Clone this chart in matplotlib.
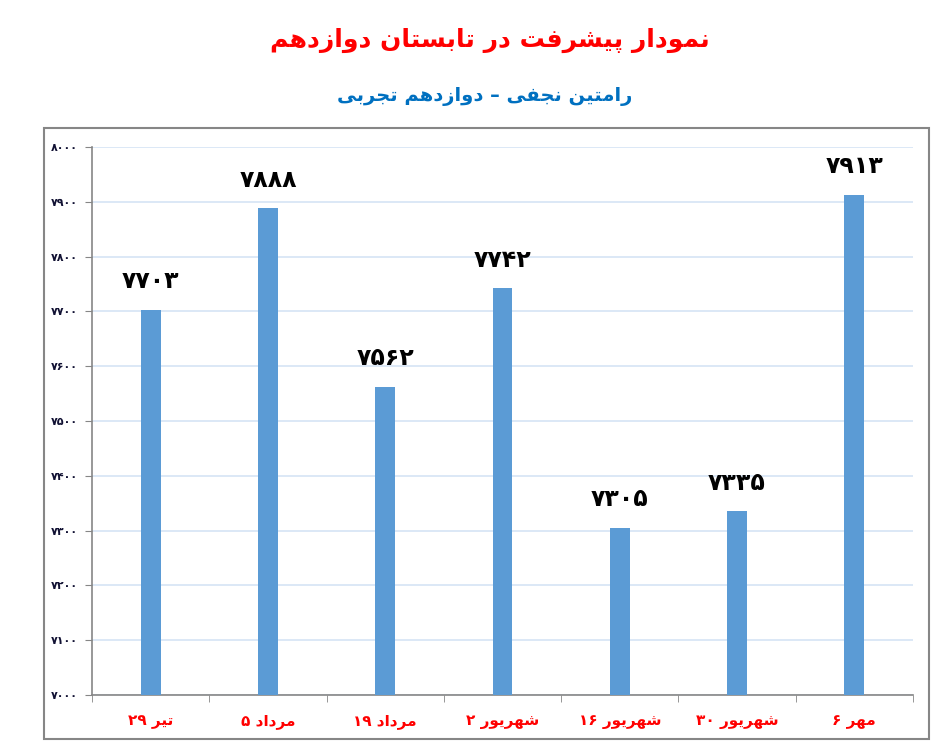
import matplotlib.pyplot as plt
from matplotlib.patches import Rectangle
from matplotlib.ticker import FuncFormatter, MultipleLocator

# data
days = [29, 5, 19, 2, 16, 30, 6]
months = ["تیر", "مرداد", "مرداد", "شهریور", "شهریور", "شهریور", "مهر"]
scores = [7703, 7888, 7562, 7742, 7305, 7335, 7913]

title = "نمودار پیشرفت در تابستان دوازدهم"
subtitle = "رامتین نجفی – دوازدهم تجربی"

# contextual forms: isolated, final, initial, medial
FORMS = {
    "ا": (0xFE8D, 0xFE8E), "آ": (0xFE81, 0xFE82),
    "د": (0xFEA9, 0xFEAA), "ذ": (0xFEAB, 0xFEAC), "ر": (0xFEAD, 0xFEAE),
    "ز": (0xFEAF, 0xFEB0), "ژ": (0xFB8A, 0xFB8B), "و": (0xFEED, 0xFEEE),
    "ب": (0xFE8F, 0xFE90, 0xFE91, 0xFE92), "پ": (0xFB56, 0xFB57, 0xFB58, 0xFB59),
    "ت": (0xFE95, 0xFE96, 0xFE97, 0xFE98), "ث": (0xFE99, 0xFE9A, 0xFE9B, 0xFE9C),
    "ج": (0xFE9D, 0xFE9E, 0xFE9F, 0xFEA0), "چ": (0xFB7A, 0xFB7B, 0xFB7C, 0xFB7D),
    "ح": (0xFEA1, 0xFEA2, 0xFEA3, 0xFEA4), "خ": (0xFEA5, 0xFEA6, 0xFEA7, 0xFEA8),
    "س": (0xFEB1, 0xFEB2, 0xFEB3, 0xFEB4), "ش": (0xFEB5, 0xFEB6, 0xFEB7, 0xFEB8),
    "ص": (0xFEB9, 0xFEBA, 0xFEBB, 0xFEBC), "ض": (0xFEBD, 0xFEBE, 0xFEBF, 0xFEC0),
    "ط": (0xFEC1, 0xFEC2, 0xFEC3, 0xFEC4), "ظ": (0xFEC5, 0xFEC6, 0xFEC7, 0xFEC8),
    "ع": (0xFEC9, 0xFECA, 0xFECB, 0xFECC), "غ": (0xFECD, 0xFECE, 0xFECF, 0xFED0),
    "ف": (0xFED1, 0xFED2, 0xFED3, 0xFED4), "ق": (0xFED5, 0xFED6, 0xFED7, 0xFED8),
    "ک": (0xFB8E, 0xFB8F, 0xFB90, 0xFB91), "گ": (0xFB92, 0xFB93, 0xFB94, 0xFB95),
    "ل": (0xFEDD, 0xFEDE, 0xFEDF, 0xFEE0), "م": (0xFEE1, 0xFEE2, 0xFEE3, 0xFEE4),
    "ن": (0xFEE5, 0xFEE6, 0xFEE7, 0xFEE8), "ه": (0xFEE9, 0xFEEA, 0xFEEB, 0xFEEC),
    "ی": (0xFBFC, 0xFBFD, 0xFBFE, 0xFBFF),
}


def rtl(text):
    # join letters into their contextual forms, then lay out right to left
    out = []
    for i, ch in enumerate(text):
        f = FORMS.get(ch)
        if f is None:
            out.append(ch)
            continue
        prev = i > 0 and len(FORMS.get(text[i - 1], ())) == 4
        nxt = len(f) == 4 and i + 1 < len(text) and text[i + 1] in FORMS
        if prev and nxt:
            k = 3
        elif prev:
            k = 1
        elif nxt:
            k = 2
        else:
            k = 0
        out.append(chr(f[k]))
    return "".join(out[::-1])


def fa_num(n):
    return "".join(chr(0x06F0 + int(c)) for c in str(int(n)))


FONT = ["DejaVu Sans"]
labels = [fa_num(d) + " " + rtl(m) for d, m in zip(days, months)]
x = list(range(len(scores)))

fig = plt.figure(figsize=(9.41, 7.55), dpi=100)
ax = fig.add_axes([92 / 941, 1 - 695 / 755, (913 - 92) / 941, (695 - 147) / 755])

ax.bar(x, scores, width=0.17, color="#5b9bd5", zorder=3)
for xi, v in zip(x, scores):
    ax.annotate(fa_num(v), (xi, v), xytext=(0, 12), textcoords="offset points",
                ha="center", va="bottom", fontsize=17, fontweight="bold",
                family=FONT, color="black")

ax.set_xlim(-0.5, len(scores) - 0.5)
ax.set_ylim(7000, 8000)
ax.yaxis.set_major_locator(MultipleLocator(100))
ax.yaxis.set_major_formatter(FuncFormatter(lambda v, p: fa_num(v)))
ax.grid(axis="y", color="#d6e4f5", lw=1.2, zorder=0)

ax.set_xticks(x)
ax.set_xticklabels(labels, color="red", fontsize=11, fontweight="bold", family=FONT)
ax.set_xticks([i + 0.5 for i in range(-1, len(scores))], minor=True)
ax.tick_params(axis="x", which="major", length=0, pad=14)
ax.tick_params(axis="x", which="minor", length=5, color="#868686", direction="out")
ax.tick_params(axis="y", length=5, color="#868686", labelsize=8, labelcolor="#111133", pad=5)
for t in ax.get_yticklabels():
    t.set_fontweight("bold")
    t.set_family(FONT)

for s in ["top", "right"]:
    ax.spines[s].set_visible(False)
for s in ["left", "bottom"]:
    ax.spines[s].set_color("#868686")
    ax.spines[s].set_linewidth(1.2)

# outer chart frame
fig.patches.append(Rectangle((44 / 941, 1 - 739 / 755), (929 - 44) / 941, (739 - 128) / 755,
                             transform=fig.transFigure, fill=False, ec="#868686", lw=1.5))

fig.text(490 / 941, 1 - 40 / 755, rtl(title), ha="center", va="center", color="red",
         fontsize=18, fontweight="bold", family=FONT)
fig.text(485 / 941, 1 - 97 / 755, rtl(subtitle), ha="center", va="center", color="#0070c0",
         fontsize=14, fontweight="bold", family=FONT)

fig.savefig("out.png", dpi=100)
